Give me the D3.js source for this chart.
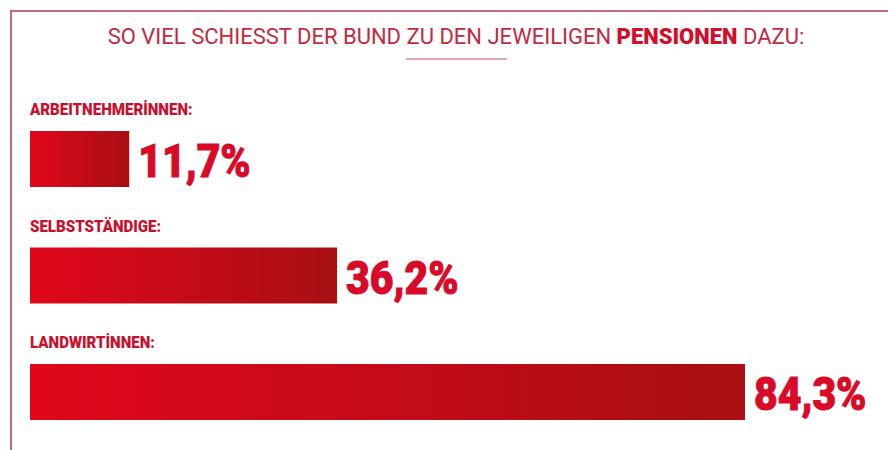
<!DOCTYPE html>
<html>
<head>
<meta charset="utf-8">
<script src="https://cdn.jsdelivr.net/npm/d3@7"></script>
<style>
  body { margin: 0; background: #fff; }
  svg { display: block; }
</style>
</head>
<body>
<svg id="chart" width="888" height="450"></svg>
<script>
// data
const categories = ["ARBEITNEHMERİNNEN:", "SELBSTSTÄNDIGE:", "LANDWIRTİNNEN:"];
const values = [11.7, 36.2, 84.3];
const valueLabels = ["11,7%", "36,2%", "84,3%"];
const titleParts = ["SO VIEL SCHIESST DER BUND ZU DEN JEWEILIGEN ", "PENSIONEN", " DAZU:"];

const width = 888, height = 450;
const margin = { left: 30 };

const svg = d3.select("#chart");

// frame
svg.append("path")
  .attr("d", `M11,${height} L11,11 L${width},11`)
  .attr("fill", "none")
  .attr("stroke", "#c9687b")
  .attr("stroke-width", 2);

// title
const title = svg.append("text")
  .attr("x", width / 2 + 12)
  .attr("y", 44)
  .attr("text-anchor", "middle")
  .style("font-family", "Roboto")
  .style("font-size", "22px")
  .attr("fill", "#c22a40");
title.selectAll("tspan")
  .data(titleParts)
  .enter().append("tspan")
  .text(d => d)
  .style("font-weight", (d, i) => i === 1 ? "900" : "400")
  .attr("fill", (d, i) => i === 1 ? "#d30e2a" : null);

svg.append("line")
  .attr("x1", 406).attr("x2", 507)
  .attr("y1", 59).attr("y2", 59)
  .attr("stroke", "#d58a98")
  .attr("stroke-width", 1.5);

// gradient
const defs = svg.append("defs");
const grad = defs.append("linearGradient")
  .attr("id", "barGrad")
  .attr("x1", "0%").attr("x2", "100%")
  .attr("y1", "0%").attr("y2", "0%");
grad.append("stop").attr("offset", "0%").attr("stop-color", "#e1071b");
grad.append("stop").attr("offset", "100%").attr("stop-color", "#a80f12");

// scales
const xScale = d3.scaleLinear().domain([0, d3.max(values)]).range([0, 715]);
const yScale = d3.scalePoint().domain(categories).range([131, 364]);
const barH = 56;

const rows = svg.selectAll(".row")
  .data(categories)
  .enter().append("g")
  .attr("class", "row")
  .attr("transform", d => `translate(${margin.left},${yScale(d)})`);

// category labels
rows.append("text")
  .attr("transform", "translate(0,-16) scale(1.04,1.1)")
  .text(d => d)
  .style("font-family", "Roboto")
  .style("font-weight", "900")
  .style("font-size", "14.5px")
  .attr("fill", "#c8102e");

rows.append("rect")
  .attr("class", "bar")
  .attr("x", 0)
  .attr("y", 0)
  .attr("width", (d, i) => xScale(values[i]))
  .attr("height", barH)
  .attr("fill", "url(#barGrad)");

rows.append("text")
  .attr("transform", (d, i) => `translate(${xScale(values[i]) + 9},46) scale(0.87,1)`)
  .text((d, i) => valueLabels[i])
  .style("font-family", "Roboto")
  .style("font-weight", "900")
  .style("font-size", "47px")
  .attr("fill", "#d90a28")
  .attr("stroke", "#d90a28")
  .attr("stroke-width", 1);
</script>
</body>
</html>
